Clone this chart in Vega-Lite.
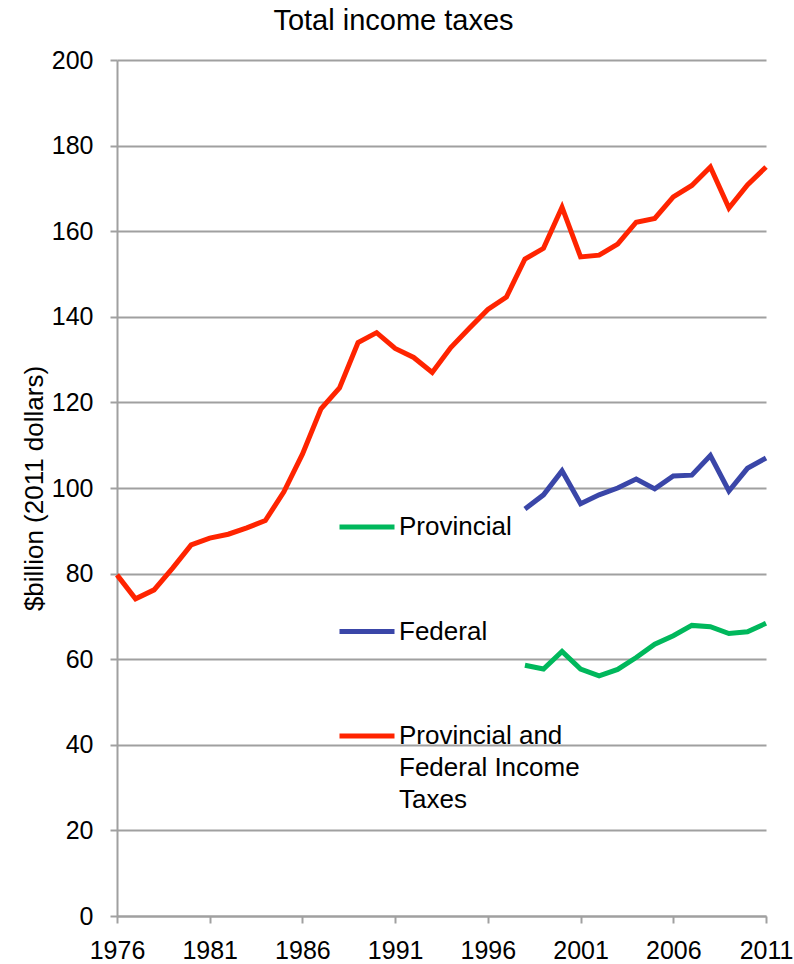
{
  "$schema": "https://vega.github.io/schema/vega-lite/v6.json",
  "autosize": "none",
  "width": 649,
  "height": 856,
  "padding": {"left": 117, "top": 60, "right": 28, "bottom": 48},
  "background": "white",
  "config": {
    "font": "Liberation Sans",
    "view": {"stroke": null}
  },
  "title": {
    "text": "Total income taxes",
    "fontSize": 29,
    "fontWeight": "normal",
    "color": "black",
    "anchor": "middle",
    "dx": -48,
    "offset": 12
  },
  "data": {
    "values": [
      {"year": 1976, "series": "Provincial and Federal Income Taxes", "value": 79.7},
      {"year": 1977, "series": "Provincial and Federal Income Taxes", "value": 74.1},
      {"year": 1978, "series": "Provincial and Federal Income Taxes", "value": 76.2},
      {"year": 1979, "series": "Provincial and Federal Income Taxes", "value": 81.3},
      {"year": 1980, "series": "Provincial and Federal Income Taxes", "value": 86.7},
      {"year": 1981, "series": "Provincial and Federal Income Taxes", "value": 88.3},
      {"year": 1982, "series": "Provincial and Federal Income Taxes", "value": 89.2},
      {"year": 1983, "series": "Provincial and Federal Income Taxes", "value": 90.7},
      {"year": 1984, "series": "Provincial and Federal Income Taxes", "value": 92.4},
      {"year": 1985, "series": "Provincial and Federal Income Taxes", "value": 99.1},
      {"year": 1986, "series": "Provincial and Federal Income Taxes", "value": 107.9},
      {"year": 1987, "series": "Provincial and Federal Income Taxes", "value": 118.5},
      {"year": 1988, "series": "Provincial and Federal Income Taxes", "value": 123.4},
      {"year": 1989, "series": "Provincial and Federal Income Taxes", "value": 134.0},
      {"year": 1990, "series": "Provincial and Federal Income Taxes", "value": 136.3},
      {"year": 1991, "series": "Provincial and Federal Income Taxes", "value": 132.6},
      {"year": 1992, "series": "Provincial and Federal Income Taxes", "value": 130.5},
      {"year": 1993, "series": "Provincial and Federal Income Taxes", "value": 127.0},
      {"year": 1994, "series": "Provincial and Federal Income Taxes", "value": 132.8},
      {"year": 1995, "series": "Provincial and Federal Income Taxes", "value": 137.3},
      {"year": 1996, "series": "Provincial and Federal Income Taxes", "value": 141.7},
      {"year": 1997, "series": "Provincial and Federal Income Taxes", "value": 144.6},
      {"year": 1998, "series": "Provincial and Federal Income Taxes", "value": 153.5},
      {"year": 1999, "series": "Provincial and Federal Income Taxes", "value": 156.0},
      {"year": 2000, "series": "Provincial and Federal Income Taxes", "value": 165.6},
      {"year": 2001, "series": "Provincial and Federal Income Taxes", "value": 154.0},
      {"year": 2002, "series": "Provincial and Federal Income Taxes", "value": 154.4},
      {"year": 2003, "series": "Provincial and Federal Income Taxes", "value": 157.0},
      {"year": 2004, "series": "Provincial and Federal Income Taxes", "value": 162.1},
      {"year": 2005, "series": "Provincial and Federal Income Taxes", "value": 163.0},
      {"year": 2006, "series": "Provincial and Federal Income Taxes", "value": 168.0},
      {"year": 2007, "series": "Provincial and Federal Income Taxes", "value": 170.7},
      {"year": 2008, "series": "Provincial and Federal Income Taxes", "value": 175.0},
      {"year": 2009, "series": "Provincial and Federal Income Taxes", "value": 165.4},
      {"year": 2010, "series": "Provincial and Federal Income Taxes", "value": 170.8},
      {"year": 2011, "series": "Provincial and Federal Income Taxes", "value": 175.0},
      {"year": 1998, "series": "Federal", "value": 95.1},
      {"year": 1999, "series": "Federal", "value": 98.4},
      {"year": 2000, "series": "Federal", "value": 104.0},
      {"year": 2001, "series": "Federal", "value": 96.3},
      {"year": 2002, "series": "Federal", "value": 98.4},
      {"year": 2003, "series": "Federal", "value": 100.0},
      {"year": 2004, "series": "Federal", "value": 102.1},
      {"year": 2005, "series": "Federal", "value": 99.8},
      {"year": 2006, "series": "Federal", "value": 102.8},
      {"year": 2007, "series": "Federal", "value": 103.0},
      {"year": 2008, "series": "Federal", "value": 107.6},
      {"year": 2009, "series": "Federal", "value": 99.3},
      {"year": 2010, "series": "Federal", "value": 104.6},
      {"year": 2011, "series": "Federal", "value": 107.0},
      {"year": 1998, "series": "Provincial", "value": 58.6},
      {"year": 1999, "series": "Provincial", "value": 57.7},
      {"year": 2000, "series": "Provincial", "value": 61.8},
      {"year": 2001, "series": "Provincial", "value": 57.7},
      {"year": 2002, "series": "Provincial", "value": 56.1},
      {"year": 2003, "series": "Provincial", "value": 57.6},
      {"year": 2004, "series": "Provincial", "value": 60.4},
      {"year": 2005, "series": "Provincial", "value": 63.5},
      {"year": 2006, "series": "Provincial", "value": 65.5},
      {"year": 2007, "series": "Provincial", "value": 67.9},
      {"year": 2008, "series": "Provincial", "value": 67.6},
      {"year": 2009, "series": "Provincial", "value": 66.0},
      {"year": 2010, "series": "Provincial", "value": 66.4},
      {"year": 2011, "series": "Provincial", "value": 68.4}
    ]
  },
  "mark": {"type": "line", "strokeWidth": 5, "strokeJoin": "miter"},
  "encoding": {
    "x": {
      "field": "year",
      "type": "quantitative",
      "scale": {"domain": [1976, 2011], "nice": false, "zero": false},
      "axis": {
        "title": null,
        "values": [1976, 1981, 1986, 1991, 1996, 2001, 2006, 2011],
        "format": "d",
        "grid": false,
        "domainColor": "#a0a0a0",
        "domainWidth": 2,
        "tickColor": "#a0a0a0",
        "tickWidth": 2,
        "tickSize": 7,
        "labelFontSize": 25,
        "labelColor": "black",
        "labelPadding": 15,
        "labelFlush": false,
        "labelOverlap": false
      }
    },
    "y": {
      "field": "value",
      "type": "quantitative",
      "scale": {"domain": [0, 200], "nice": false},
      "axis": {
        "title": "$billion (2011 dollars)",
        "titleFontSize": 26,
        "titleFontWeight": "normal",
        "titleColor": "black",
        "titlePadding": 4,
        "values": [0, 20, 40, 60, 80, 100, 120, 140, 160, 180, 200],
        "grid": true,
        "gridColor": "#a0a0a0",
        "gridWidth": 2,
        "domainColor": "#a0a0a0",
        "domainWidth": 2,
        "tickColor": "#a0a0a0",
        "tickWidth": 2,
        "tickSize": 7,
        "labelFontSize": 25,
        "labelColor": "black",
        "labelPadding": 17
      }
    },
    "color": {
      "field": "series",
      "type": "nominal",
      "scale": {
        "domain": ["Provincial", "Federal", "Provincial and Federal Income Taxes"],
        "range": ["#00B85C", "#3A46A8", "#FF2400"]
      },
      "legend": {
        "title": null,
        "orient": "none",
        "legendX": 220,
        "legendY": 437,
        "symbolType": "stroke",
        "symbolSize": 3025,
        "symbolStrokeWidth": 5,
        "labelFontSize": 26,
        "labelColor": "black",
        "labelOffset": 2,
        "labelLimit": 400,
        "labelBaseline": "middle",
        "rowPadding": 61.5,
        "labelExpr": "datum.label == 'Provincial and Federal Income Taxes' ? ['Provincial and', 'Federal Income', 'Taxes'] : datum.label",
        "encode": {"labels": {"update": {"lineHeight": {"value": 32}}}}
      }
    }
  }
}
